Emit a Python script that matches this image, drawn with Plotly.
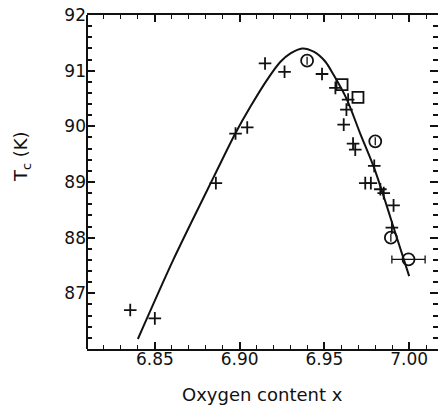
import plotly.graph_objects as go

# Crosses (+)
cross_x = [6.8355, 6.850, 6.886, 6.8976, 6.9045, 6.915, 6.9265, 6.9486, 6.9565,
           6.9640, 6.9630, 6.9614, 6.9669, 6.9682, 6.9794, 6.9741, 6.9774, 6.983,
           6.985, 6.9908, 6.9898]
cross_y = [86.70, 86.55, 88.98, 89.87, 89.98, 91.13, 90.98, 90.94, 90.69,
           90.48, 90.30, 90.03, 89.69, 89.58, 89.29, 88.98, 88.98, 88.87,
           88.80, 88.58, 88.18]

# Open circles
circ_x = [6.9398, 6.980, 6.9892, 6.9996]
circ_y = [91.18, 89.73, 88.00, 87.61]
circ_xerr = [0, 0, 0, 0.0098]

# Open squares
sq_x = [6.9604, 6.9698]
sq_y = [90.75, 90.52]

# Fitted curve
curve_x = [6.840, 6.861, 6.8849, 6.8976, 6.9065, 6.9163, 6.9241, 6.930, 6.9369,
           6.9437, 6.9506, 6.9555, 6.9633, 6.971, 6.979, 6.985, 6.990, 7.000]
curve_y = [86.18, 87.61, 89.10, 89.88, 90.36, 90.84, 91.16, 91.31, 91.40,
           91.34, 91.16, 90.92, 90.48, 89.88, 89.28, 88.74, 88.26, 87.31]

x_ticks = [6.85, 6.90, 6.95, 7.00]
x_ticklabels = ["6.85", "6.90", "6.95", "7.00"]
y_ticks = [87, 88, 89, 90, 91, 92]

FONT = "DejaVu Sans"
BLACK = "#111111"

fig = go.Figure()
fig.add_trace(go.Scatter(x=curve_x, y=curve_y, mode="lines",
                         line=dict(color=BLACK, width=2, shape="spline", smoothing=0.8),
                         showlegend=False, hoverinfo="skip"))
fig.add_trace(go.Scatter(x=cross_x, y=cross_y, mode="markers",
                         marker=dict(symbol="cross-thin", size=9,
                                     line=dict(color=BLACK, width=1.8)),
                         showlegend=False))
fig.add_trace(go.Scatter(x=circ_x, y=circ_y, mode="markers",
                         marker=dict(symbol="circle-open", size=12, color=BLACK,
                                     line=dict(color=BLACK, width=1.8)),
                         error_x=dict(type="data", array=circ_xerr, visible=True,
                                      color=BLACK, thickness=1.3, width=4),
                         showlegend=False))
fig.add_trace(go.Scatter(x=sq_x, y=sq_y, mode="markers",
                         marker=dict(symbol="square-open", size=11, color=BLACK,
                                     line=dict(color=BLACK, width=1.8)),
                         showlegend=False))

fig.update_layout(
    width=440, height=406,
    margin=dict(l=87, r=2, t=15, b=57),
    paper_bgcolor="white", plot_bgcolor="white",
    font=dict(family=FONT, size=17, color=BLACK),
    xaxis=dict(range=[6.81, 7.017], tickvals=x_ticks, ticktext=x_ticklabels,
               ticks="inside", ticklen=7, tickwidth=1.6, tickcolor=BLACK,
               showline=True, linecolor=BLACK, linewidth=2, mirror="ticks",
               showgrid=False, zeroline=False, ticklabelstandoff=-6,
               minor=dict(dtick=0.01, tick0=6.80, ticks="inside", ticklen=4,
                          tickwidth=1.4, tickcolor=BLACK, showgrid=False),
               tickfont=dict(family=FONT, size=17, color=BLACK)),
    yaxis=dict(range=[86.0, 92.0], tickvals=y_ticks,
               ticks="inside", ticklen=8, tickwidth=1.8, tickcolor=BLACK,
               showline=False, mirror="ticks",
               showgrid=False, zeroline=False,
               minor=dict(dtick=0.2, tick0=86, ticks="inside", ticklen=5,
                          tickwidth=1.6, tickcolor=BLACK, showgrid=False),
               tickfont=dict(family=FONT, size=17, color=BLACK)),
    shapes=[dict(type="line", xref="x domain", yref="y domain",
                 x0=0, x1=0, y0=0, y1=1, line=dict(color=BLACK, width=2))],
    annotations=[
        dict(text="Oxygen content x", xref="paper", yref="paper",
             x=0.5, y=0, yshift=-33, xanchor="center", yanchor="top",
             showarrow=False, font=dict(family=FONT, size=18, color=BLACK)),
        dict(text="T<sub>c</sub> (K)", xref="paper", yref="y",
             x=0, xshift=-65, y=89.45, textangle=-90,
             xanchor="center", yanchor="middle",
             showarrow=False, font=dict(family=FONT, size=18, color=BLACK)),
    ],
)

fig.write_html("out.html")
